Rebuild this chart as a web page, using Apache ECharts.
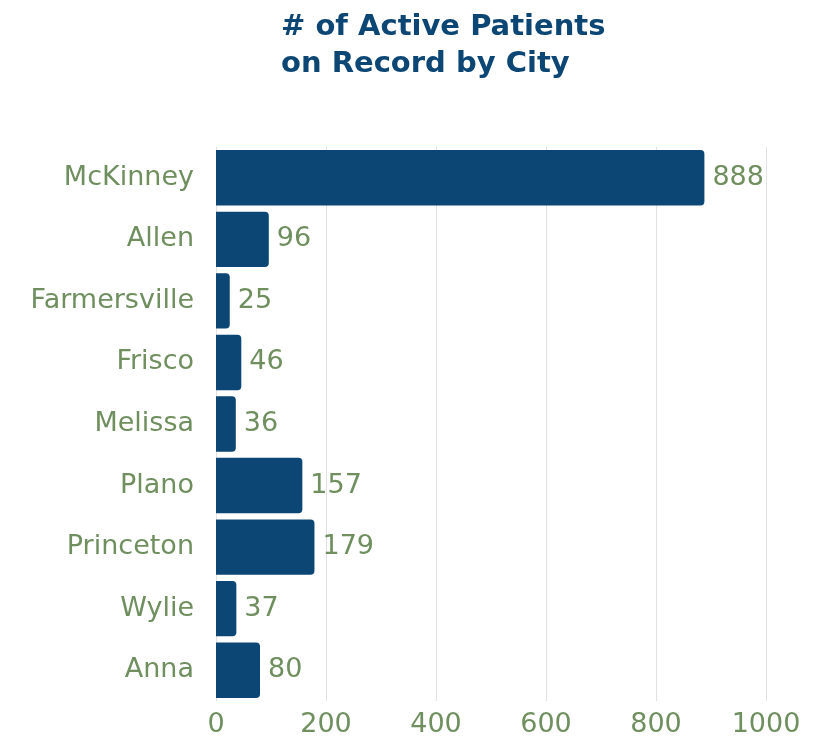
<!DOCTYPE html>
<html>
<head>
<meta charset="utf-8">
<script src="https://cdn.jsdelivr.net/npm/echarts@6/dist/echarts.min.js"></script>
<style>
  html, body { margin: 0; padding: 0; background: #fff; }
  #main { width: 818px; height: 743px; }
</style>
</head>
<body>
<div id="main"></div>
<script>
  // data
  var cities = ['McKinney', 'Allen', 'Farmersville', 'Frisco', 'Melissa', 'Plano', 'Princeton', 'Wylie', 'Anna'];
  var patients = [888, 96, 25, 46, 36, 157, 179, 37, 80];
  var xTicks = [0, 200, 400, 600, 800, 1000];

  var green = '#6f8f5f';
  var navy = '#0b4674';
  var font = 'DejaVu Sans';

  var myChart = echarts.init(document.getElementById('main'));
  myChart.setOption({
    title: {
      text: '# of Active Patients\non Record by City',
      left: 276,
      top: 4,
      textStyle: {
        color: navy,
        fontFamily: font,
        fontWeight: 'bold',
        fontSize: 29,
        lineHeight: 37
      }
    },
    grid: {
      left: 216,
      right: 52,
      top: 147,
      bottom: 42
    },
    xAxis: {
      type: 'value',
      min: xTicks[0],
      max: xTicks[xTicks.length - 1],
      interval: 200,
      axisLine: { show: false },
      axisTick: { show: false },
      splitLine: { lineStyle: { color: '#e2e2e2', width: 1 } },
      axisLabel: {
        color: green,
        fontFamily: font,
        fontSize: 27,
        margin: 10,
        formatter: function (v) { return String(v); }
      }
    },
    yAxis: {
      type: 'category',
      data: cities,
      inverse: true,
      axisLine: { show: false },
      axisTick: { show: false },
      axisLabel: {
        color: green,
        fontFamily: font,
        fontSize: 27,
        margin: 22
      }
    },
    series: [
      {
        type: 'bar',
        data: patients,
        barCategoryGap: '10%',
        itemStyle: { color: navy, borderRadius: [0, 4, 4, 0] },
        label: {
          show: true,
          position: 'right',
          distance: 8,
          color: green,
          fontFamily: font,
          fontSize: 27
        }
      }
    ]
  });
</script>
</body>
</html>
